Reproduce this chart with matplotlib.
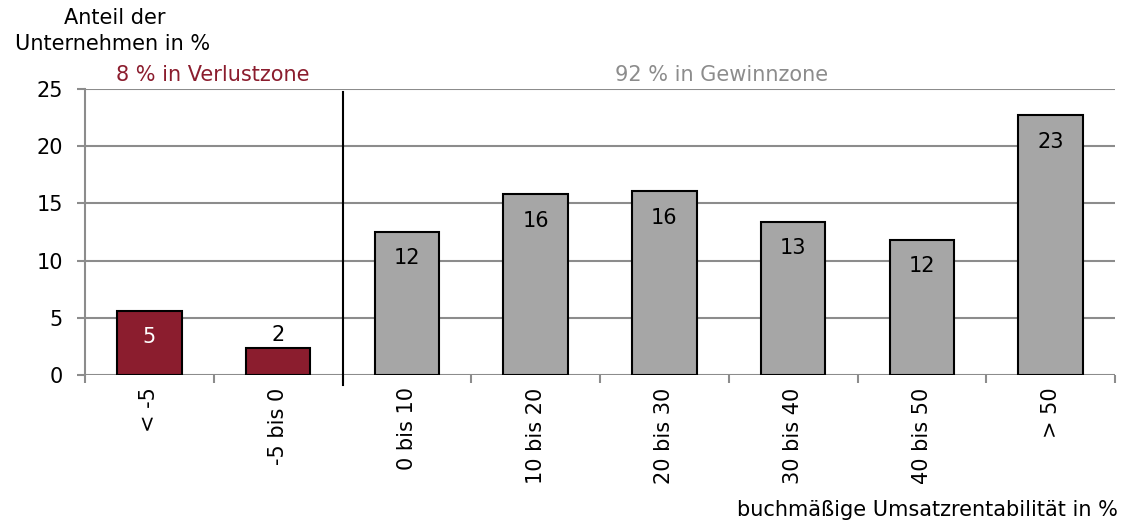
import matplotlib
matplotlib.use("Agg")
import matplotlib.pyplot as plt
import numpy as np

categories = ["< -5", "-5 bis 0", "0 bis 10", "10 bis 20", "20 bis 30", "30 bis 40", "40 bis 50", "> 50"]
values = [5.6, 2.35, 12.5, 15.8, 16.05, 13.4, 11.8, 22.7]
labels = ["5", "2", "12", "16", "16", "13", "12", "23"]
red = "#8B1D2E"
grey = "#A6A6A6"
colors = [red, red] + [grey] * 6

FS = 15
plt.rcParams['font.family'] = ['DejaVu Sans']
fig = plt.figure(figsize=(11.27, 5.23), dpi=100)
ax = fig.add_axes([85/1127, 148/523, 1030/1127, 286/523])

x = np.arange(len(categories))
bars = ax.bar(x, values, width=0.5, color=colors, edgecolor="black", linewidth=1.5, zorder=3)

ax.set_xlim(-0.5, len(categories) - 0.5)
ax.set_ylim(0, 25)
ax.set_yticks([0, 5, 10, 15, 20, 25])
ax.yaxis.grid(True, color="#8C8C8C", linewidth=1.5, zorder=0)
ax.set_axisbelow(True)
for s in ["top", "right", "bottom"]:
    ax.spines[s].set_visible(False)
ax.spines["left"].set_color("#8C8C8C")
ax.spines["left"].set_linewidth(1.5)
ax.tick_params(axis="y", length=6, width=1.5, color="#8C8C8C", labelsize=FS, pad=10)

ax.set_xticks(np.arange(-0.5, len(categories) + 0.5, 1))
ax.set_xticklabels([])
ax.set_xticks(x, minor=True)
ax.set_xticklabels(categories, minor=True, rotation=90, fontsize=FS)
ax.tick_params(axis="x", which="major", length=6, width=1.5, color="#8C8C8C", direction="out")
ax.tick_params(axis="x", which="minor", length=0, pad=9)

for i, (v, lab) in enumerate(zip(values, labels)):
    if v < 4:
        ax.text(i, v + 1.15, lab, ha="center", va="center", fontsize=FS, color="black", zorder=4)
    else:
        ax.text(i, v - 2.3, lab, ha="center", va="center", fontsize=FS,
                color="white" if i == 0 else "black", zorder=4)

ax.plot([1.5, 1.5], [-0.85, 24.75], color="black", linewidth=1.5, clip_on=False, zorder=5)

fig.text(115/1127, 1 - 18/523, "Anteil der", ha="center", va="center", fontsize=FS)
fig.text(113/1127, 1 - 44/523, "Unternehmen in %", ha="center", va="center", fontsize=FS)
fig.text(213/1127, 1 - 75/523, "8 % in Verlustzone", ha="center", va="center", fontsize=FS, color=red)
fig.text(722/1127, 1 - 75/523, "92 % in Gewinnzone", ha="center", va="center", fontsize=FS, color="#8C8C8C")
fig.text(1118/1127, 1 - 510/523, "buchmäßige Umsatzrentabilität in %", ha="right", va="center", fontsize=FS)

fig.savefig("out.png", dpi=100)
